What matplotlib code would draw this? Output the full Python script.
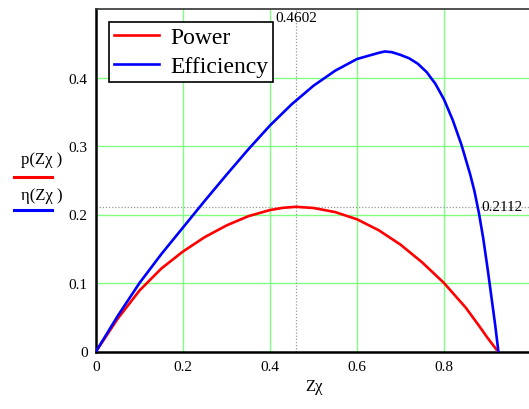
import matplotlib.pyplot as plt
from matplotlib.lines import Line2D

# values
z_power = [0.0, 0.05, 0.10, 0.15, 0.20, 0.25, 0.30, 0.35, 0.40, 0.43, 0.4602, 0.50, 0.55,
           0.60, 0.65, 0.70, 0.75, 0.80, 0.85, 0.88, 0.90, 0.924]
power = [0.0, 0.048, 0.089, 0.121, 0.146, 0.167, 0.184, 0.1975, 0.2065, 0.2098, 0.2112, 0.2095,
         0.2035, 0.193, 0.177, 0.156, 0.130, 0.100, 0.064, 0.038, 0.020, 0.0]

z_eff = [0.0, 0.05, 0.10, 0.15, 0.20, 0.25, 0.30, 0.35, 0.40, 0.45, 0.50, 0.55, 0.60,
         0.65, 0.664, 0.68, 0.70, 0.72, 0.74, 0.76, 0.78, 0.80, 0.82, 0.84, 0.86,
         0.87, 0.88, 0.89, 0.90, 0.91, 0.918, 0.925]
eff = [0.0, 0.052, 0.100, 0.142, 0.181, 0.220, 0.258, 0.295, 0.330, 0.361, 0.388, 0.410, 0.427,
       0.436, 0.438, 0.437, 0.433, 0.428, 0.420, 0.408, 0.391, 0.368, 0.338, 0.302, 0.259,
       0.234, 0.203, 0.166, 0.122, 0.075, 0.037, 0.0]

x_ticks = [0, 0.2, 0.4, 0.6, 0.8]
x_labels = ['0', '0.2', '0.4', '0.6', '0.8']
y_ticks = [0, 0.1, 0.2, 0.3, 0.4]
y_labels = ['0', '0.1', '0.2', '0.3', '0.4']

z_peak = 0.4602
p_peak = 0.2112

plt.rcParams['font.family'] = ['Liberation Serif', 'DejaVu Serif']

fig = plt.figure(figsize=(5.29, 4.10), dpi=100)
ax = fig.add_axes([96 / 529, 57.5 / 410, 435 / 529, 342.5 / 410])

ax.plot(z_power, power, color='#ff0000', lw=1.9, label='Power', zorder=3)
ax.plot(z_eff, eff, color='#0000ff', lw=1.9, label='Efficiency', zorder=3)

# trace markers
ax.axvline(z_peak, color='#999999', lw=0.9, ls=(0, (1, 1.5)), zorder=2)
ax.axhline(p_peak, color='#999999', lw=0.9, ls=(0, (1, 1.5)), zorder=2)
ax.text(z_peak - 0.048, 0.497, f'{z_peak:.4f}', fontsize=11, va='top', ha='left')
ax.text(0.887, p_peak, f'{p_peak:.4f}', fontsize=11, va='center', ha='left')

ax.set_xlim(0, 1.0)
ax.set_ylim(0, 0.5)
ax.set_xticks(x_ticks)
ax.set_xticklabels(x_labels)
ax.set_yticks(y_ticks)
ax.set_yticklabels(y_labels)
ax.tick_params(length=0, labelsize=11, pad=6)
ax.grid(True, color='#80ff80', lw=1.0, zorder=1)

for side in ['left', 'bottom']:
    ax.spines[side].set_linewidth(1.8)
    ax.spines[side].set_color('black')
for side in ['top', 'right']:
    ax.spines[side].set_linewidth(1.2)
    ax.spines[side].set_color('#333333')

leg = ax.legend(loc='upper left', bbox_to_anchor=(0.03, 0.962), fontsize=17,
                fancybox=False, framealpha=1, edgecolor='black',
                borderpad=0.2, handlelength=1.9, handletextpad=0.5, labelspacing=0.3,
                borderaxespad=0)
leg.get_frame().set_linewidth(1.2)

ax.set_xlabel('Zχ', fontsize=12, labelpad=4)

# Mathcad style y-axis labels with line keys
fig.text(42 / 529, 1 - 160 / 410, 'p(Zχ )', fontsize=12, ha='center', va='center')
fig.add_artist(Line2D([14 / 529, 52 / 529], [1 - 178 / 410] * 2, color='#ff0000', lw=2.2))
fig.text(42 / 529, 1 - 196 / 410, 'η(Zχ )', fontsize=12, ha='center', va='center')
fig.add_artist(Line2D([14 / 529, 52 / 529], [1 - 211 / 410] * 2, color='#0000ff', lw=2.2))

fig.savefig('out.png', dpi=100)
